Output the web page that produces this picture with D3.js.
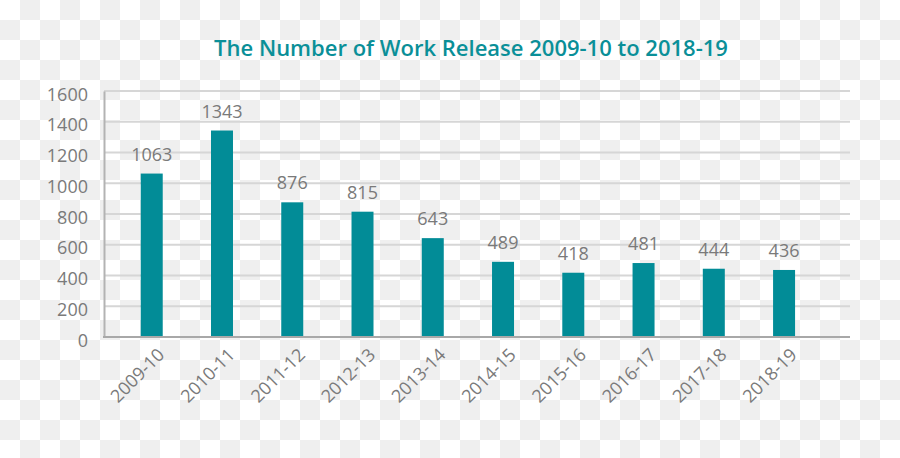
<!DOCTYPE html>
<html>
<head>
<meta charset="utf-8">
<script src="https://cdn.jsdelivr.net/npm/d3@7"></script>
<style>
  body { margin: 0; }
  svg { display: block; font-family: "Open Sans", sans-serif; }
</style>
</head>
<body>
<svg id="chart"></svg>
<script>
// data
var years = ["2009-10", "2010-11", "2011-12", "2012-13", "2013-14",
             "2014-15", "2015-16", "2016-17", "2017-18", "2018-19"];
var releases = [1063, 1343, 876, 815, 643, 489, 418, 481, 444, 436];
var yTicks = [0, 200, 400, 600, 800, 1000, 1200, 1400, 1600];
var title = "The Number of Work Release 2009-10 to 2018-19";

var W = 900, H = 458;
var plot = { left: 104, right: 850, top: 91, bottom: 337 };
var teal = "#028c97";

var svg = d3.select("#chart").attr("width", W).attr("height", H);

// checkered backdrop
var defs = svg.append("defs");
var pat = defs.append("pattern")
    .attr("id", "checker")
    .attr("width", 40).attr("height", 40)
    .attr("patternUnits", "userSpaceOnUse");
pat.append("rect").attr("width", 40).attr("height", 40).attr("fill", "#ffffff");
pat.append("rect").attr("x", 20).attr("y", 0).attr("width", 20).attr("height", 20).attr("fill", "#efefef");
pat.append("rect").attr("x", 0).attr("y", 20).attr("width", 20).attr("height", 20).attr("fill", "#efefef");
svg.append("rect").attr("width", W).attr("height", H).attr("fill", "url(#checker)");

// scales
var xScale = d3.scaleBand()
    .domain(years)
    .range([116.6, 819.2])
    .paddingInner(0.687)
    .paddingOuter(0.3435);
var yScale = d3.scaleLinear().domain([0, 1600]).range([plot.bottom, plot.top]);

// gridlines
svg.append("g")
    .selectAll("line")
    .data(yTicks.filter(function (d) { return d > 0; }))
    .enter()
    .append("line")
    .attr("x1", plot.left).attr("x2", plot.right)
    .attr("y1", function (d) { return yScale(d); })
    .attr("y2", function (d) { return yScale(d); })
    .attr("stroke", "#d6d6d6")
    .attr("stroke-width", 2);

// y axis
var yAxis = d3.axisLeft(yScale).tickValues(yTicks).tickSize(0).tickPadding(16)
    .tickFormat(d3.format("d"));
var gy = svg.append("g")
    .attr("transform", "translate(" + plot.left + ",0)")
    .call(yAxis);
gy.select(".domain").attr("stroke", "#b3b3b3").attr("stroke-width", 2);
gy.selectAll("text")
    .attr("font-size", 18)
    .attr("fill", "#7a7a7a")
    .attr("font-family", "Open Sans")
    .attr("dy", "0.5em");

// bars
svg.append("g")
    .selectAll("rect")
    .data(releases)
    .enter()
    .append("rect")
    .attr("x", function (d, i) { return xScale(years[i]); })
    .attr("width", xScale.bandwidth())
    .attr("y", function (d) { return yScale(d); })
    .attr("height", function (d) { return yScale(0) - yScale(d); })
    .attr("fill", teal);

// value labels
svg.append("g")
    .selectAll("text")
    .data(releases)
    .enter()
    .append("text")
    .attr("x", function (d, i) { return xScale(years[i]) + xScale.bandwidth() / 2; })
    .attr("y", function (d) { return yScale(d) - 13; })
    .attr("text-anchor", "middle")
    .attr("font-size", 18)
    .attr("fill", "#7a7a7a")
    .text(function (d) { return d; });

// baseline
svg.append("line")
    .attr("x1", plot.left - 1).attr("x2", plot.right)
    .attr("y1", yScale(0)).attr("y2", yScale(0))
    .attr("stroke", "#a8a8a8")
    .attr("stroke-width", 2);

// x labels
var xAxis = d3.axisBottom(xScale).tickSize(0).tickPadding(0);
var gx = svg.append("g")
    .attr("transform", "translate(0," + plot.bottom + ")")
    .call(xAxis);
gx.select(".domain").remove();
gx.selectAll("text")
    .attr("font-size", 18)
    .attr("fill", "#7a7a7a")
    .attr("font-family", "Open Sans")
    .attr("text-anchor", "end")
    .attr("dy", "0.7em")
    .attr("transform", "translate(5,10) rotate(-45)");

// title
svg.append("text")
    .attr("x", 471)
    .attr("y", 56)
    .attr("text-anchor", "middle")
    .attr("font-size", 22)
    .attr("font-weight", 600)
    .attr("fill", "#0a8f98")
    .text(title);
</script>
</body>
</html>
